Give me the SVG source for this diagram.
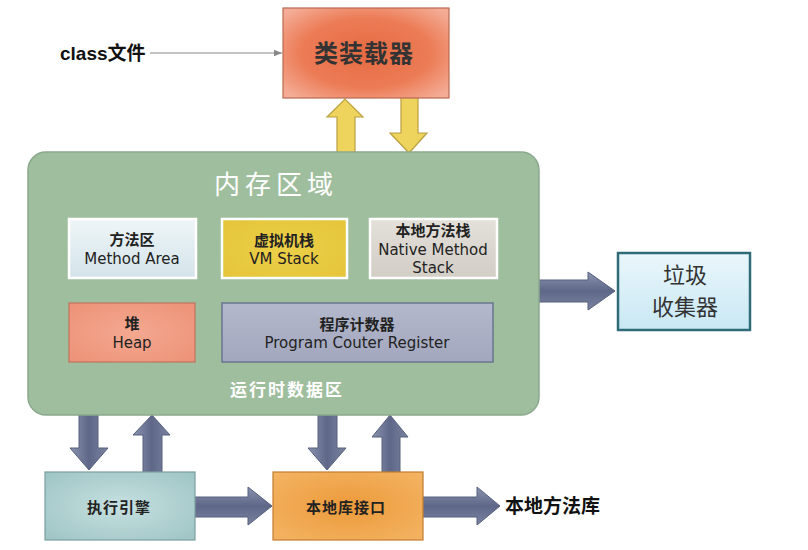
<svg xmlns="http://www.w3.org/2000/svg" width="808" height="550" viewBox="0 0 808 550">
<defs>
<radialGradient id="gLoader" cx="50%" cy="50%" r="65%"><stop offset="0" stop-color="#e66a42"/><stop offset="0.6" stop-color="#ec7c56"/><stop offset="1" stop-color="#f4ac96"/></radialGradient>
<linearGradient id="gMethod" x1="0" y1="0" x2="0" y2="1"><stop offset="0" stop-color="#eef5f7"/><stop offset="1" stop-color="#d4e4ea"/></linearGradient>
<radialGradient id="gVM" cx="50%" cy="50%" r="70%"><stop offset="0" stop-color="#ecd048"/><stop offset="1" stop-color="#e4c43a"/></radialGradient>
<linearGradient id="gNative" x1="0" y1="0" x2="0" y2="1"><stop offset="0" stop-color="#e4e0da"/><stop offset="1" stop-color="#d2cec6"/></linearGradient>
<radialGradient id="gHeap" cx="50%" cy="50%" r="70%"><stop offset="0" stop-color="#f4a890"/><stop offset="1" stop-color="#ec9278"/></radialGradient>
<linearGradient id="gPC" x1="0" y1="0" x2="0" y2="1"><stop offset="0" stop-color="#b4b8cc"/><stop offset="1" stop-color="#a2a7be"/></linearGradient>
<linearGradient id="gGC" x1="0" y1="0" x2="0" y2="1"><stop offset="0" stop-color="#eaf6fb"/><stop offset="1" stop-color="#c8e8f4"/></linearGradient>
<radialGradient id="gExec" cx="50%" cy="50%" r="70%"><stop offset="0" stop-color="#c6e0e0"/><stop offset="1" stop-color="#9ec4c4"/></radialGradient>
<radialGradient id="gLib" cx="50%" cy="50%" r="70%"><stop offset="0" stop-color="#ec9a3a"/><stop offset="1" stop-color="#f4b464"/></radialGradient>
<linearGradient id="gArrowH" x1="0" y1="0" x2="0" y2="1"><stop offset="0" stop-color="#8a93ae"/><stop offset="0.5" stop-color="#5e6788"/><stop offset="1" stop-color="#7a84a0"/></linearGradient>
<linearGradient id="gArrowV" x1="0" y1="0" x2="1" y2="0"><stop offset="0" stop-color="#8a93ae"/><stop offset="0.5" stop-color="#5e6788"/><stop offset="1" stop-color="#7a84a0"/></linearGradient>
<marker id="mThin" viewBox="0 0 10 10" refX="10" refY="5" markerWidth="7" markerHeight="7" orient="auto"><path d="M0,1 L10,5 L0,9 Z" fill="#888"/></marker>
</defs>
<style>
.cjk{font-family:"Noto Sans CJK SC","Noto Sans",sans-serif;}
.en{font-family:"DejaVu Sans","Noto Sans CJK SC",sans-serif;font-size:15px;fill:#222;}
.lbl{font-family:"Noto Sans CJK SC",sans-serif;font-size:15px;font-weight:700;fill:#222;}
.white{fill:#fff;}
.arrH{fill:url(#gArrowH);stroke:#56607c;stroke-width:1;}
.arrV{fill:url(#gArrowV);stroke:#56607c;stroke-width:1;}
.arrY{fill:#eed35c;stroke:#b9a040;stroke-width:1.2;}
.inner{stroke:#ffffff;stroke-width:2.5;}
</style>
<rect width="808" height="550" fill="#ffffff"/>

<g id="connectors">
<line x1="150" y1="53" x2="282" y2="53" stroke="#888" stroke-width="1.2" marker-end="url(#mThin)"/>
<path class="arrY" d="M337,153 L337,117 L327,117 L345,99 L363,117 L355,117 L355,153 Z"/>
<path class="arrY" d="M401,97 L418,97 L418,133 L427,133 L409,153 L390,133 L401,133 Z"/>
<path class="arrH" d="M538,280 L588,280 L588,272 L615,291 L588,310 L588,302 L538,302 Z"/>
<path class="arrV" d="M79,414 L98,414 L98,448 L108,448 L89,470 L70,448 L79,448 Z"/>
<path class="arrV" d="M143,473 L143,435 L133,435 L152,415 L170,435 L162,435 L162,473 Z"/>
<path class="arrV" d="M318,414 L337,414 L337,448 L346,448 L327,470 L308,448 L318,448 Z"/>
<path class="arrV" d="M382,473 L382,437 L372,437 L390,415 L408,437 L400,437 L400,473 Z"/>
<path class="arrH" d="M194,497 L248,497 L248,487 L272,506 L248,525 L248,517 L194,517 Z"/>
<path class="arrH" d="M422,497 L477,497 L477,487 L500,506 L477,525 L477,517 L422,517 Z"/>
</g>

<g id="class-file">
<text x="60" y="60" font-family="Liberation Sans,'Noto Sans CJK SC',sans-serif" font-size="19" font-weight="700" fill="#111">class文件</text>
</g>

<g id="class-loader">
<rect x="283" y="8" width="166" height="90" fill="url(#gLoader)" stroke="#b86a50" stroke-width="1.2"/>
<text class="cjk" x="364" y="62" text-anchor="middle" font-size="24" font-weight="700" fill="#333" letter-spacing="1">类装载器</text>
</g>

<g id="memory-area">
<rect x="28" y="152" width="511" height="263" rx="18" fill="#9fbe9e" stroke="#8aa88c" stroke-width="1.5"/>
<text class="cjk white" x="276" y="194" text-anchor="middle" font-size="26" letter-spacing="5">内存区域</text>
<text class="cjk white" x="287" y="396" text-anchor="middle" font-size="17" font-weight="700" letter-spacing="2">运行时数据区</text>
</g>

<g id="method-area">
<rect class="inner" x="69" y="219" width="127" height="59" fill="url(#gMethod)"/>
<text class="lbl" x="132" y="245" text-anchor="middle">方法区</text>
<text class="en" x="132" y="264" text-anchor="middle">Method Area</text>
</g>

<g id="vm-stack">
<rect class="inner" x="222" y="219" width="125" height="59" fill="url(#gVM)"/>
<text class="lbl" x="284" y="246" text-anchor="middle">虚拟机栈</text>
<text class="en" x="284" y="264" text-anchor="middle">VM Stack</text>
</g>

<g id="native-stack">
<rect class="inner" x="370" y="219" width="127" height="59" fill="url(#gNative)"/>
<text class="lbl" x="433" y="236" text-anchor="middle">本地方法栈</text>
<text class="en" x="433" y="255" text-anchor="middle">Native Method</text>
<text class="en" x="433" y="273" text-anchor="middle">Stack</text>
</g>

<g id="heap">
<rect x="69" y="303" width="126" height="59" fill="url(#gHeap)" stroke="#c0735e" stroke-width="1.2"/>
<text class="lbl" x="132" y="329" text-anchor="middle">堆</text>
<text class="en" x="132" y="348" text-anchor="middle">Heap</text>
</g>

<g id="program-counter">
<rect x="222" y="303" width="271" height="59" fill="url(#gPC)" stroke="#6a7590" stroke-width="1.5"/>
<text class="lbl" x="357" y="330" text-anchor="middle">程序计数器</text>
<text class="en" x="357" y="348" text-anchor="middle">Program Couter Register</text>
</g>

<g id="garbage-collector">
<rect x="618" y="253" width="132" height="77" fill="url(#gGC)" stroke="#2f6c78" stroke-width="2.5"/>
<text class="cjk" x="685" y="283" text-anchor="middle" font-size="22" fill="#333">垃圾</text>
<text class="cjk" x="685" y="315" text-anchor="middle" font-size="22" fill="#333">收集器</text>
</g>

<g id="execution-engine">
<rect x="45" y="472" width="150" height="68" fill="url(#gExec)" stroke="#7c9e9e" stroke-width="1.2"/>
<text class="lbl" x="119" y="513" text-anchor="middle" font-size="16" letter-spacing="1">执行引擎</text>
</g>

<g id="native-interface">
<rect x="273" y="472" width="150" height="68" fill="url(#gLib)" stroke="#c27c30" stroke-width="1.2"/>
<text class="lbl" x="346" y="513" text-anchor="middle" font-size="16" letter-spacing="1">本地库接口</text>
</g>

<g id="native-library">
<text class="cjk" x="505" y="513" font-size="19" font-weight="700" fill="#111">本地方法库</text>
</g>
</svg>
